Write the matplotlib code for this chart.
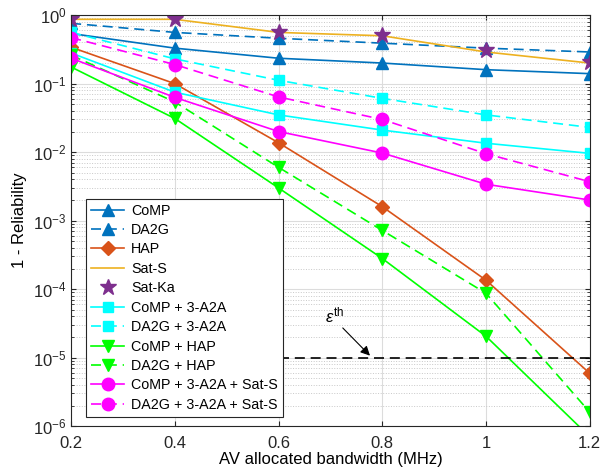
import numpy as np
import matplotlib
matplotlib.use('Agg')
from matplotlib import pyplot as plt

plt.rcParams['font.family'] = ['Liberation Sans', 'DejaVu Sans']
plt.rcParams['mathtext.fontset'] = 'custom'
plt.rcParams['mathtext.rm'] = 'Liberation Sans'
plt.rcParams['mathtext.it'] = 'Liberation Sans:italic'

bw = [0.2, 0.4, 0.6, 0.8, 1.0, 1.2]

comp = [0.54, 0.33, 0.235, 0.20, 0.16, 0.14]
da2g = [0.76, 0.56, 0.46, 0.39, 0.33, 0.29]
hap = [0.34, 0.10, 0.0137, 0.0016, 1.35e-4, 5.9e-6]
sat_s = [0.87, 0.87, 0.56, 0.50, 0.29, 0.20]
sat_ka = [0.89, 0.89, 0.57, 0.51, 0.31, 0.21]
comp_a2a = [0.28, 0.075, 0.035, 0.021, 0.0135, 0.0096]
da2g_a2a = [0.56, 0.23, 0.112, 0.061, 0.035, 0.023]
comp_hap = [0.175, 0.031, 0.003, 2.8e-4, 2.05e-5, 7e-7]
da2g_hap = [0.26, 0.054, 0.006, 7.2e-4, 8.7e-5, 1.6e-6]
comp_a2a_sat = [0.235, 0.063, 0.020, 0.0097, 0.0034, 0.0020]
da2g_a2a_sat = [0.47, 0.19, 0.064, 0.030, 0.0095, 0.0037]

eps_th = 1e-5
eps_x = [0.6, 1.2]

blue = '#0072BD'
red = '#D95319'
yellow = '#EDB120'
purple = '#7E2F8E'
dash = (0, (6, 3.5))

fig = plt.figure(figsize=(6.03, 4.74), dpi=100)
ax = fig.add_axes([0.118, 0.101, 0.860, 0.867])

ms = 9
ax.plot(bw, comp, '-', color=blue, marker='^', ms=ms, lw=1.2, label='CoMP')
ax.plot(bw, da2g, ls=dash, color=blue, marker='^', ms=ms, lw=1.2, label='DA2G')
ax.plot(bw, hap, '-', color=red, marker='D', ms=7, lw=1.2, label='HAP')
ax.plot(bw, sat_s, '-', color=yellow, lw=1.2, label='Sat-S')
ax.plot(bw, sat_ka, ls='none', color=purple, marker='*', ms=12, label='Sat-Ka')
ax.plot(bw, comp_a2a, '-', color='#00FFFF', marker='s', ms=7, lw=1.2, label='CoMP + 3-A2A')
ax.plot(bw, da2g_a2a, ls=dash, color='#00FFFF', marker='s', ms=7, lw=1.2, label='DA2G + 3-A2A')
ax.plot(bw, comp_hap, '-', color='#00FF00', marker='v', ms=ms, lw=1.2, label='CoMP + HAP')
ax.plot(bw, da2g_hap, ls=dash, color='#00FF00', marker='v', ms=ms, lw=1.2, label='DA2G + HAP')
ax.plot(bw, comp_a2a_sat, '-', color='#FF00FF', marker='o', ms=9, lw=1.2, label='CoMP + 3-A2A + Sat-S')
ax.plot(bw, da2g_a2a_sat, ls=dash, color='#FF00FF', marker='o', ms=9, lw=1.2, label='DA2G + 3-A2A + Sat-S')

ax.plot(eps_x, [eps_th, eps_th], ls=dash, color='k', lw=1.2)
ax.annotate('', xy=(0.78, eps_th), xytext=(0.72, 2.9e-5),
            arrowprops=dict(arrowstyle='-|>', color='k', lw=0.8, mutation_scale=14))
ax.text(0.69, 3.3e-5, r'$\epsilon^{\rm th}$', fontsize=12)

ax.set_yscale('log')
ax.set_xlim(0.2, 1.2)
ax.set_ylim(1e-6, 1)
ax.set_xticks(bw)
ax.set_xticklabels(['0.2', '0.4', '0.6', '0.8', '1', '1.2'])
ax.set_xlabel('AV allocated bandwidth (MHz)', fontsize=12, labelpad=1)
ax.set_ylabel('1 - Reliability', fontsize=12)

ax.grid(True, which='major', color='#dcdcdc', lw=0.8)
ax.grid(True, which='minor', axis='y', color='#c8c8c8', ls=':', lw=0.7)
ax.set_axisbelow(True)
ax.tick_params(which='both', direction='in', top=True, right=True, labelsize=12, colors='#262626')
ax.tick_params(axis='x', pad=7)
for s in ax.spines.values():
    s.set_color('#262626')
    s.set_linewidth(0.8)

leg = ax.legend(loc='lower left', bbox_to_anchor=(0.015, 0.005), fontsize=10.3,
                handlelength=2.3, labelspacing=0.38, borderpad=0.35,
                handletextpad=0.5, fancybox=False, framealpha=1, edgecolor='#262626')
leg.get_frame().set_linewidth(0.8)

fig.savefig('out.png', dpi=100)
